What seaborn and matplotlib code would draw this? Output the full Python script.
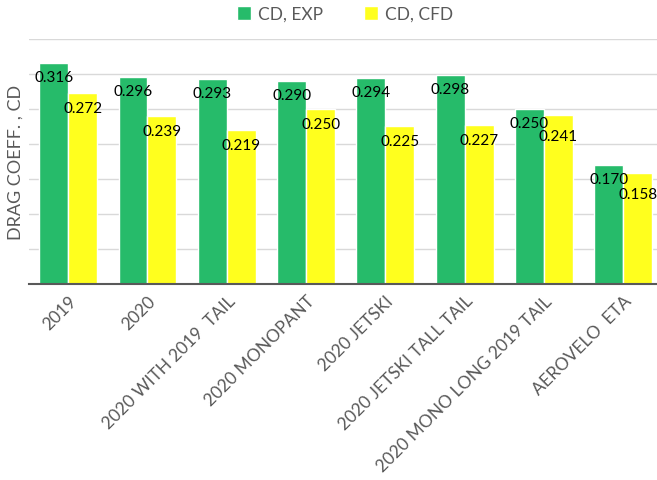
import matplotlib
matplotlib.use("Agg")
import matplotlib.pyplot as plt
import seaborn as sns
import pandas as pd

configs = ["2019", "2020", "2020 WITH 2019  TAIL", "2020 MONOPANT", "2020 JETSKI",
           "2020 JETSKI TALL TAIL", "2020 MONO LONG 2019 TAIL", "AEROVELO  ETA"]
cd_exp = [0.316, 0.296, 0.293, 0.290, 0.294, 0.298, 0.250, 0.170]
cd_cfd = [0.272, 0.239, 0.219, 0.250, 0.225, 0.227, 0.241, 0.158]
series = ["CD, EXP", "CD, CFD"]
colors = ["#26BB6A", "#FFFF1E"]

df = pd.DataFrame({
    "config": configs * 2,
    "cd": cd_exp + cd_cfd,
    "series": [series[0]] * len(configs) + [series[1]] * len(configs),
})

sns.set_theme(style="white")
plt.rcParams["font.family"] = ["Lato", "DejaVu Sans"]

fig = plt.figure(figsize=(6.57, 4.81), dpi=100)
# the plot area runs slightly past the right edge of the canvas
ax = fig.add_axes([0.0434, 0.4075, 0.9657, 0.51])

sns.barplot(data=df, x="config", y="cd", hue="series", palette=colors,
            width=0.73, gap=0, saturation=1, ax=ax, zorder=2)

ax.set_ylim(0, 0.35)
ax.set_yticks([0.05, 0.10, 0.15, 0.20, 0.25, 0.30, 0.35])
ax.set_yticklabels([])
ax.tick_params(axis="y", length=0)
ax.grid(axis="y", color="#D9D9D9", linewidth=1, zorder=0)
ax.set_axisbelow(True)
for s in ["top", "right", "left"]:
    ax.spines[s].set_visible(False)
ax.spines["bottom"].set_color("#595959")
ax.spines["bottom"].set_linewidth(1.5)
ax.set_xlim(-0.5, len(configs) - 0.5)

ax.set_xlabel("")
ax.set_ylabel("")
fig.text(16 / 657, 1 - 162 / 481, "DRAG COEFF. , CD", rotation=90, fontsize=13,
         color="#595959", ha="center", va="center")
ax.tick_params(axis="x", length=0, pad=6)
ax.set_xticks(range(len(configs)))
ax.set_xticklabels(configs, rotation=45, ha="right", rotation_mode="anchor",
                   fontsize=12.5, color="#595959")

# value labels just inside the top of each bar; a CFD label is pushed a bit
# lower when its bar is nearly as tall as the EXP bar beside it
exp_cont, cfd_cont = ax.containers[0], ax.containers[1]
for i, (pe, pc) in enumerate(zip(exp_cont.patches, cfd_cont.patches)):
    for patch, val, off in ((pe, cd_exp[i], -14),
                            (pc, cd_cfd[i], -21 if cd_exp[i] - cd_cfd[i] < 0.015 else -15)):
        ax.annotate(f"{val:.3f}", (patch.get_x() + patch.get_width() / 2, val),
                    xytext=(0, off), textcoords="offset pixels",
                    ha="center", va="center", fontsize=11, color="black", zorder=5)

leg = ax.legend(loc="center", bbox_to_anchor=(345 / 657, 1 - 15 / 481),
                bbox_transform=fig.transFigure, ncol=2,
                frameon=False, fontsize=12.5, handlelength=0.8, handleheight=0.8,
                handletextpad=0.4, columnspacing=2.4)
for t in leg.get_texts():
    t.set_color("#595959")

fig.savefig("out.png", dpi=100)
